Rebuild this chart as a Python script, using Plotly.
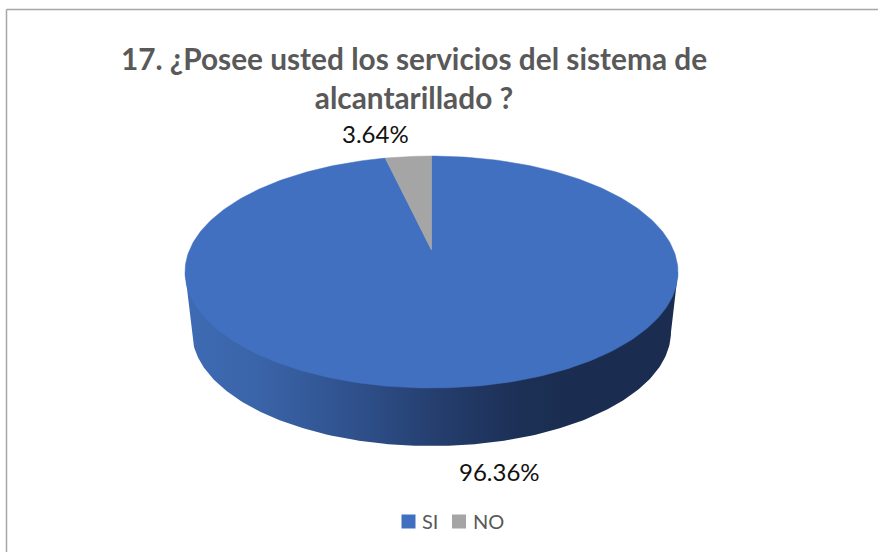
import numpy as np
import plotly.graph_objects as go

# Survey result
categories = ["SI", "NO"]
percentages = [96.36, 3.64]
slice_colors = ["#4270C0", "#A5A5A5"]
title_lines = ["17. ¿Posee usted los servicios del sistema de", "alcantarillado ?"]

WIDTH, HEIGHT = 878, 552

# Perspective disc: unit circle (u, v) projected onto the canvas
CX, APEX_Y = 431.5, 250.0
K = 0.19
A, B = 242.0, 111.8


def project(u, v):
    w = 1 + K * v
    return CX + A * u / w, APEX_Y - B * v / w


def slice_outline(start_frac, end_frac):
    t = np.linspace(start_frac, end_frac, max(8, int((end_frac - start_frac) * 360)))
    theta = 2 * np.pi * t
    x, y = project(np.sin(theta), np.cos(theta))
    return [CX, *x, CX], [APEX_Y, *y, APEX_Y]


fig = go.Figure()

# Cylinder side wall, following the lower half of the base ellipse
base_t = np.linspace(np.pi, 2 * np.pi, 200)
base_x = CX + 239.5 * np.cos(base_t)
base_y = 332 - 114 * np.sin(base_t)
wall_top_x = CX + 246.5 * np.array([-1, 1])
fig.add_trace(go.Scatter(
    x=[wall_top_x[0], *base_x, wall_top_x[1], wall_top_x[0]],
    y=[272, *base_y, 272, 272],
    mode="lines",
    line=dict(width=0),
    fill="toself",
    fillgradient=dict(
        type="horizontal",
        start=185,
        stop=678,
        colorscale=[
            [0.0, "#3E6BB4"],
            [0.15, "#3A64A8"],
            [0.38, "#2D4D86"],
            [0.52, "#243D6C"],
            [0.68, "#1C3056"],
            [0.8, "#1A2C4F"],
            [1.0, "#1A2C4F"],
        ],
    ),
    showlegend=False,
    hoverinfo="skip",
))

# Top face: one wedge per category, clockwise from twelve o'clock
running = 0.0
total = sum(percentages)
for name, value, color in zip(categories, percentages, slice_colors):
    xs, ys = slice_outline(running / total, (running + value) / total)
    fig.add_trace(go.Scatter(
        x=xs, y=ys, mode="lines", line=dict(width=0.5, color=color),
        fill="toself", fillcolor=color, name=name, showlegend=False,
        hovertemplate=f"{name}: {value:.2f}%<extra></extra>",
    ))
    running += value

# Legend row: a square key followed by its category name
key_x = [408.5, 459]
text_x = [421, 472]
for name, color, kx, tx in zip(categories, slice_colors, key_x, text_x):
    fig.add_trace(go.Scatter(
        x=[kx], y=[521.5], mode="markers", name=name, showlegend=False,
        marker=dict(symbol="square", size=14, color=color),
        hoverinfo="skip",
    ))
    fig.add_annotation(
        x=tx, y=520.5, text=name, showarrow=False, xanchor="left",
        font=dict(family="Lato", size=20, color="#595959"),
        xshift=-1,
    )

# Percentage labels
label_pos = [(499, 471), (375, 133)]
for value, (lx, ly) in zip(percentages, label_pos):
    fig.add_annotation(
        x=lx, y=ly, text=f"{value:.2f}%", showarrow=False,
        font=dict(family="Lato", size=24, color="#111111"),
    )

# Chart frame: only the top and left edges show
fig.add_shape(type="line", x0=6.5, x1=878, y0=9.5, y1=9.5, line=dict(color="#A6A6A6", width=1.5))
fig.add_shape(type="line", x0=6.5, x1=6.5, y0=9.5, y1=552, line=dict(color="#A6A6A6", width=1.5))

fig.update_layout(
    width=WIDTH,
    height=HEIGHT,
    margin=dict(l=0, r=0, t=0, b=0),
    paper_bgcolor="white",
    plot_bgcolor="white",
    showlegend=False,
    title=dict(
        text="<b>" + "<br>".join(title_lines) + "</b>",
        x=414 / WIDTH, xanchor="center", xref="paper",
        y=1 - 70 / HEIGHT, yanchor="middle", yref="paper",
        font=dict(family="Lato", size=29.8, color="#595959"),
    ),
    xaxis=dict(range=[0, WIDTH], visible=False, fixedrange=True),
    yaxis=dict(range=[HEIGHT, 0], visible=False, fixedrange=True),
)

fig.write_html("out.html", config=dict(displayModeBar=False))
